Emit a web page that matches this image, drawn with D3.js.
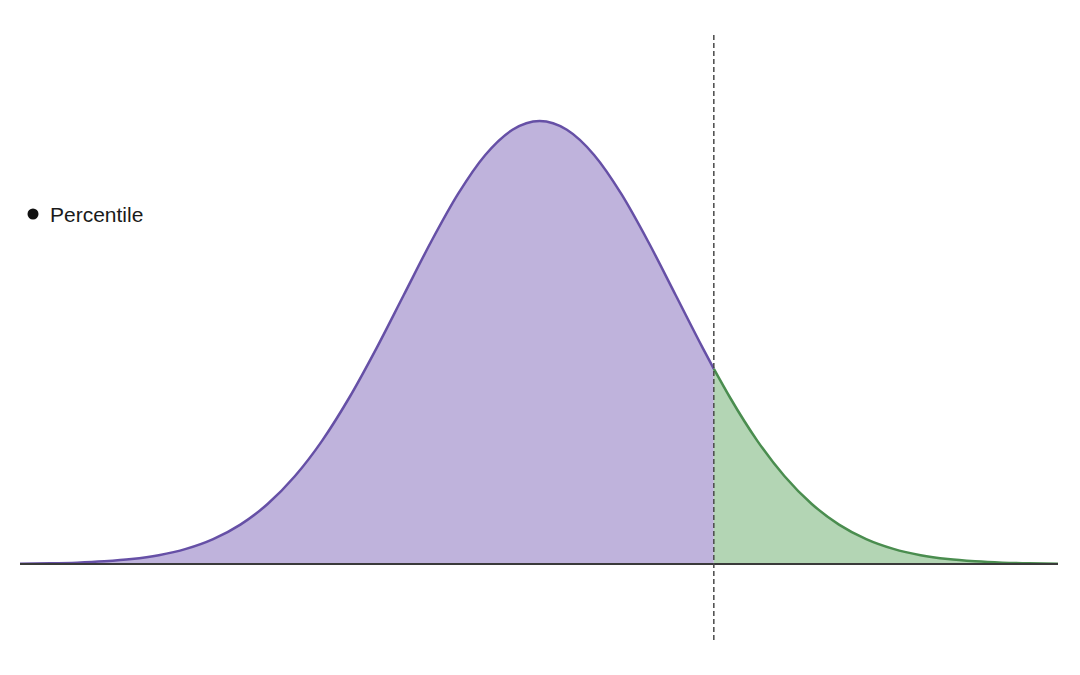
<!DOCTYPE html>
<html>
<head>
<meta charset="utf-8">
<script src="https://cdn.jsdelivr.net/npm/d3@7/dist/d3.min.js"></script>
<style>
  html, body { margin: 0; padding: 0; background: #ffffff; }
  svg { display: block; }
</style>
</head>
<body>
<svg id="chart" width="1080" height="675"></svg>
<script>
// Values (x in standard-deviation units, density height)
const xValues = [-3.82, -3.6, -3.4, -3.2, -3.0, -2.8, -2.6, -2.4, -2.2, -2.0, -1.8, -1.6, -1.4, -1.2, -1.0, -0.8, -0.6, -0.4, -0.2, 0.0,
                 0.2, 0.4, 0.6, 0.8, 1.0, 1.2, 1.28, 1.4, 1.6, 1.8, 2.0, 2.2, 2.4, 2.6, 2.8, 3.0, 3.2, 3.4, 3.6, 3.81];
const densityValues = [0.0003, 0.0006, 0.0012, 0.0024, 0.0044, 0.0079, 0.0136, 0.0224, 0.0355, 0.0540, 0.0790, 0.1109, 0.1497, 0.1942, 0.2420, 0.2897, 0.3332, 0.3683, 0.3910, 0.3989,
                       0.3910, 0.3683, 0.3332, 0.2897, 0.2420, 0.1942, 0.1758, 0.1497, 0.1109, 0.0790, 0.0540, 0.0355, 0.0224, 0.0136, 0.0079, 0.0044, 0.0024, 0.0012, 0.0006, 0.0003];
const percentileCut = 1.28;
const legendLabels = ["Percentile"];

const svg = d3.select("#chart");
const x = d3.scaleLinear().domain([-3.82, 3.81]).range([20, 1058]);
const y = d3.scaleLinear().domain([0, 0.3989]).range([564, 121]);

const points = xValues.map((v, i) => ({ x: v, y: densityValues[i] }));
const leftPts = points.filter(p => p.x <= percentileCut);
const rightPts = points.filter(p => p.x >= percentileCut);

const area = d3.area().x(d => x(d.x)).y0(y(0)).y1(d => y(d.y)).curve(d3.curveMonotoneX);
const line = d3.line().x(d => x(d.x)).y(d => y(d.y)).curve(d3.curveMonotoneX);

svg.append("path").datum(leftPts).attr("d", area).attr("fill", "#bfb3dc");
svg.append("path").datum(rightPts).attr("d", area).attr("fill", "#b3d5b4");
svg.append("path").datum(leftPts).attr("d", line).attr("fill", "none")
  .attr("stroke", "#6650a6").attr("stroke-width", 2.5);
svg.append("path").datum(rightPts).attr("d", line).attr("fill", "none")
  .attr("stroke", "#4a8d4f").attr("stroke-width", 2.5);

// baseline
svg.append("line").attr("x1", x(-3.82)).attr("x2", x(3.81)).attr("y1", y(0)).attr("y2", y(0))
  .attr("stroke", "#3a3a3a").attr("stroke-width", 2);

// percentile dashed marker
svg.append("line").attr("x1", x(percentileCut)).attr("x2", x(percentileCut))
  .attr("y1", 35).attr("y2", 641)
  .attr("stroke", "#4a4a4a").attr("stroke-width", 1.5).attr("stroke-dasharray", "5,3");

// legend
const lg = svg.append("g").attr("transform", "translate(33,214)");
lg.selectAll("circle").data(legendLabels).enter().append("circle")
  .attr("cx", 0).attr("cy", 0).attr("r", 5.5).attr("fill", "#111111");
lg.selectAll("text").data(legendLabels).enter().append("text")
  .attr("x", 17).attr("y", 7.5)
  .attr("font-family", "'Liberation Sans', Arial, sans-serif")
  .attr("font-size", 21).attr("fill", "#1a1a1a").text(d => d);
</script>
</body>
</html>
